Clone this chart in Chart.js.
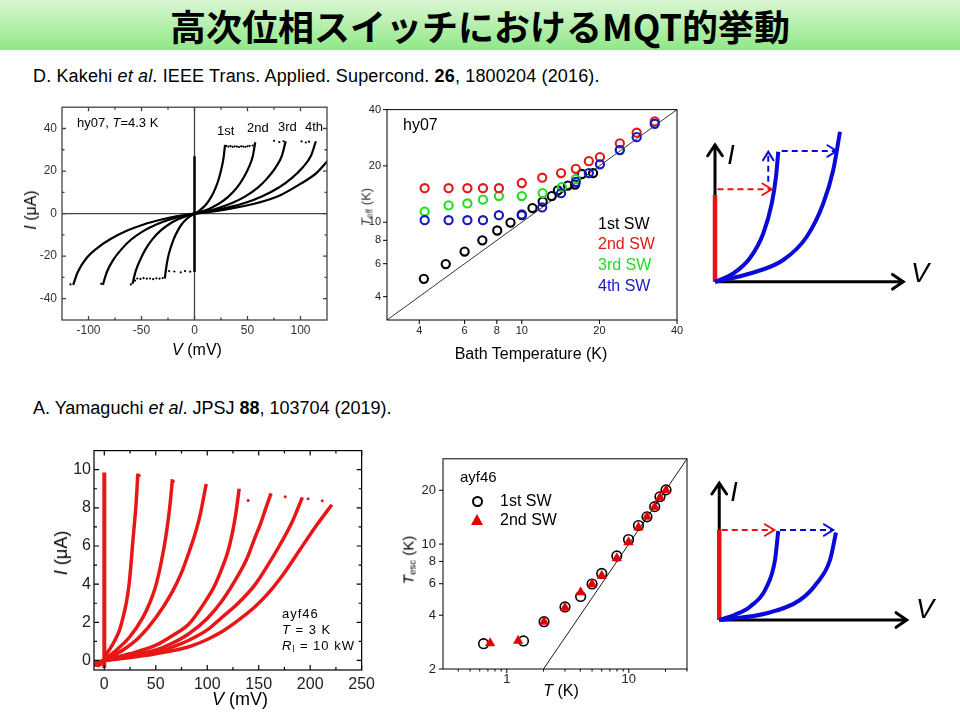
<!DOCTYPE html>
<html lang="ja"><head><meta charset="utf-8">
<script src="https://cdn.jsdelivr.net/npm/chart.js@4.4.1/dist/chart.umd.min.js"></script>
<style>
html,body{margin:0;padding:0;background:#fff}
body{position:relative;width:960px;height:720px;overflow:hidden;font-family:"Liberation Sans",Arial,sans-serif;color:#000}
.box{position:absolute}
.box canvas{display:block}
.t{position:absolute;white-space:nowrap;line-height:1}
.c{transform:translate(-50%,-50%)}
.l{transform:translateY(-50%)}
.r{transform:translate(-50%,-50%) rotate(-90deg)}
sub{font-size:65%;vertical-align:-0.25em;line-height:0}
#banner{position:absolute;left:0;top:0;width:960px;height:50px;background:linear-gradient(to bottom,#d9f6d2 0%,#b6efae 50%,#8fe887 100%)}
#title{position:absolute;left:480px;top:25px;transform:translate(-50%,-50%);font-family:"Noto Sans CJK JP",sans-serif;font-weight:700;font-size:36px;white-space:nowrap;line-height:1}
.sch{font-style:italic;font-size:27px;font-family:"Liberation Sans",Arial,sans-serif}
</style></head><body>
<div id="banner"></div>
<div id="title">高次位相スイッチにおけるMQT的挙動</div>
<div class="t l" style="left:33px;top:76px;font-size:18px;letter-spacing:0.15px">D. Kakehi <i>et al</i>. IEEE Trans. Applied. Supercond. <b>26</b>, 1800204 (2016).</div>
<div class="t l" style="left:33px;top:408px;font-size:18px">A. Yamaguchi <i>et al</i>. JPSJ <b>88</b>, 103704 (2019).</div>

<div class="box" style="left:10px;top:95px;width:330px;height:260px"><canvas id="cA" width="330" height="260"></canvas></div>
<div class="box" style="left:345px;top:97px;width:345px;height:250px"><canvas id="cB" width="345" height="250"></canvas></div>
<div class="box" style="left:700px;top:120px;width:250px;height:180px"><canvas id="cC" width="250" height="180"></canvas></div>
<div class="box" style="left:40px;top:438px;width:340px;height:262px"><canvas id="cD" width="340" height="262"></canvas></div>
<div class="box" style="left:400px;top:444px;width:300px;height:250px"><canvas id="cE" width="300" height="250"></canvas></div>
<div class="box" style="left:700px;top:470px;width:250px;height:170px"><canvas id="cF" width="250" height="170"></canvas></div>

<!-- chart A texts -->
<div class="t l" style="left:77px;top:122px;font-size:13px">hy07, <i>T</i>=4.3 K</div>
<div class="t l" style="left:217px;top:130px;font-size:13px">1st</div>
<div class="t l" style="left:247px;top:127px;font-size:13px">2nd</div>
<div class="t l" style="left:278px;top:126px;font-size:13px">3rd</div>
<div class="t l" style="left:305px;top:126px;font-size:13px">4th</div>
<div class="t r" style="left:31px;top:210px;font-size:16px"><i>I</i> (μA)</div>
<div class="t c" style="left:197px;top:350px;font-size:16px"><i>V</i> (mV)</div>

<!-- chart B texts -->
<div class="t l" style="left:403px;top:125px;font-size:16px">hy07</div>
<div class="t l" style="left:598px;top:224px;font-size:16px;color:#000">1st SW</div>
<div class="t l" style="left:598px;top:244px;font-size:16px;color:#e01818">2nd SW</div>
<div class="t l" style="left:598px;top:265px;font-size:16px;color:#22dd22">3rd SW</div>
<div class="t l" style="left:598px;top:286px;font-size:16px;color:#1818c0">4th SW</div>
<div class="t c" style="left:531px;top:354px;font-size:16px">Bath Temperature (K)</div>
<div class="t r" style="left:366px;top:207px;font-size:13px;color:#333"><i>T</i><sub>eff</sub> (K)</div>

<!-- chart C texts -->
<div class="t c sch" style="left:731px;top:155px">I</div>
<div class="t c sch" style="left:920px;top:273px">V</div>

<!-- chart D texts -->
<div class="t l" style="left:282px;top:613px;font-size:13px;letter-spacing:1px">ayf46</div>
<div class="t l" style="left:282px;top:629px;font-size:13px;letter-spacing:1px"><i>T</i> = 3 K</div>
<div class="t l" style="left:282px;top:645px;font-size:13px;letter-spacing:1px"><i>R</i><sub>l</sub> = 10 kW</div>
<div class="t r" style="left:61px;top:553px;font-size:18px"><i>I</i> (μA)</div>
<div class="t c" style="left:240px;top:699px;font-size:18px"><i>V</i> (mV)</div>

<!-- chart E texts -->
<div class="t l" style="left:460px;top:476px;font-size:15px">ayf46</div>
<div class="box" style="left:472px;top:496px;width:7px;height:7px;border:2px solid #000;border-radius:50%"></div>
<div class="t l" style="left:500px;top:501px;font-size:16px">1st SW</div>
<div class="box" style="left:471px;top:514px;width:0;height:0;border-left:6px solid transparent;border-right:6px solid transparent;border-bottom:11px solid #e00000"></div>
<div class="t l" style="left:500px;top:520px;font-size:16px">2nd SW</div>
<div class="t r" style="left:408px;top:560px;font-size:15px"><i>T</i><sub>esc</sub> (K)</div>
<div class="t c" style="left:561px;top:691px;font-size:16px"><i>T</i> (K)</div>

<!-- chart F texts -->
<div class="t c sch" style="left:734px;top:492px">I</div>
<div class="t c sch" style="left:925px;top:609px">V</div>

<script>
// ---------------- DATA ----------------
// Chart A: I-V (hy07, T=4.3 K), points [V (mV), I (uA)]
const ivA_pos1 = [[0,0],[4,1.2],[8,2.8],[12,5.0],[16,8.0],[20,12.2],[23,16.5],[25.5,21.3],[27.5,26.5],[28.8,32.3]];
const ivA_pos2 = [[0,0],[8,1.2],[16,2.8],[24,5.0],[32,8.0],[40,12.2],[46,16.6],[51,21.5],[55,27],[57.3,33.5]];
const ivA_pos3 = [[0,0],[12,1.2],[24,2.9],[36,5.1],[48,8.1],[60,12.3],[69,16.8],[76.5,21.6],[82.5,27.2],[86,34]];
const ivA_pos4 = [[0,0],[16,1.2],[32,2.9],[48,5.1],[64,8.2],[80,12.4],[92,16.8],[102,21.7],[110,27.3],[114.5,34]];
const ivA_pos5 = [[0,0],[20,1.2],[40,2.9],[60,5.1],[80,8.4],[100,14],[115,19],[126,25]];
const ivA_neg1 = [[-28,-30.5],[-27,-26.5],[-25.3,-21.3],[-22.8,-16.5],[-19.8,-12.2],[-15.8,-8],[-12,-5],[-8,-2.8],[-4,-1.2],[0,0]];
const ivA_neg2 = [[-58.5,-33],[-55.5,-27],[-51,-21.5],[-46,-16.6],[-40,-12.2],[-32,-8],[-24,-5],[-16,-2.8],[-8,-1.2],[0,0]];
const ivA_neg3 = [[-86.5,-33.5],[-82.5,-27.2],[-76.5,-21.6],[-69,-16.8],[-60,-12.3],[-48,-8.1],[-36,-5.1],[-24,-2.9],[-12,-1.2],[0,0]];
const ivA_neg4 = [[-114.5,-33.5],[-110,-27.3],[-102,-21],[-92,-16.3],[-80,-12.2],[-64,-8.1],[-48,-5.1],[-32,-2.9],[-16,-1.2],[0,0]];
const ivA_super = [[0,-27.5],[0,27]];
const ivA_dots = [[30,31.8],[32,31.5],[34,31.7],[36,31.4],[38,31.6],[40,31.5],[42,31.3],[44,31.6],[46,31.5],[48,31.4],[50,31.6],[52,31.8],[55,32],
  [75,34.2],[80,33.6],[84,34],[101,33.9],[105,33.4],[108,33.8],
  [-4,-27.3],[-9,-27],[-13,-27.6],[-19,-27.2],[-24,-27],[-30,-30.3],[-33,-30.6],[-36,-30.4],[-39,-30.8],[-42,-30.5],[-45,-30.6],
  [-48,-30.3],[-51,-30.7],[-54,-30.5],[-56,-31.5],[-60,-33.3],[-88,-33],[-117,-33.3]];
const ticksA_x = [-100,-50,0,50,100];
const ticksA_y = [-40,-20,0,20,40];
const minorA_x = [-75,-25,25,75];
const minorA_y = [-30,-10,10,30];

// Chart B: T_eff vs bath temperature (K), points [T_bath, T_eff]
const teff_1st = [[4.17,4.98],[5.07,5.97],[6.0,6.97],[7.03,8.0],[8.03,9.03],[9.04,9.95],[10,10.9],[11,11.9],[12.05,12.9],[13.06,13.8],[13.8,14.8],[15.1,15.7],[16.1,15.9],[17.1,18.1],[18.9,18.3]];
const teff_2nd = [[4.2,15.2],[5.2,15.2],[6.15,15.2],[7.07,15.2],[8.15,15.2],[10,16.2],[12,17.3],[14.2,18.3],[16.2,19.3],[18.2,21.2],[20.1,22.3],[24,26.4],[27.9,30.1],[32.8,34.6]];
const teff_3rd = [[4.2,11.4],[5.2,12.3],[6.15,12.6],[7.07,13.2],[8.15,13.8],[10,13.8],[12.05,14.3],[14.3,15.4],[16.2,17],[24,24.3]];
const teff_4th = [[4.2,10.25],[5.2,10.25],[6.15,10.25],[7.07,10.25],[8.15,10.9],[10,11.0],[12,12.0],[14.2,14.3],[16.2,16.4],[18.2,18.3],[20.1,20.4],[24,24.3],[27.9,28.5],[32.8,33.6]];
const teff_line = [[3,3],[40,40]];
const ticksB = [4,6,8,10,20,40];

// Chart D: I-V (ayf46, T=3 K), points [V (mV), I (uA)]
const ivD_1 = [[0,0],[2.3,0.35],[6,0.65],[10.3,1.06],[14.5,1.55],[18.2,2.25],[21.3,3.0],[24,3.95],[26.2,5.2],[27.8,6.3],[29.5,7.3],[31,8.3],[32.6,9.8]];
const ivD_2 = [[0,0],[5,0.25],[11.9,0.55],[24.6,1.23],[37.4,2.25],[44,3.0],[50.2,3.95],[55.5,5.2],[59.8,6.5],[63.5,8.0],[66.2,9.5]];
const ivD_3 = [[0,0],[8,0.25],[18.2,0.55],[34.2,1.23],[50.2,2.25],[66.2,3.61],[75,4.6],[82.2,5.66],[88,6.6],[93,7.6],[99,9.25]];
const ivD_4 = [[0,0],[12,0.18],[25,0.35],[50.2,0.8],[66,1.3],[82.2,1.91],[98.2,3.1],[107,3.9],[114.1,4.8],[119.5,5.6],[123.7,6.5],[127.5,7.6],[131,9.0]];
const ivD_5 = [[0,0],[25,0.25],[50.2,0.55],[66,0.9],[82.2,1.4],[100,2.2],[114.1,3.1],[130.1,4.47],[139,5.4],[146.1,6.4],[152,7.2],[157,8.0],[162,8.76]];
const ivD_6 = [[0,0],[25,0.2],[50.2,0.4],[66,0.7],[82.2,1.06],[100,1.6],[114.1,2.25],[130,3.0],[146.1,3.95],[158.9,5.0],[170,6.0],[182,7.2],[192.4,8.55]];
const ivD_7 = [[0,0],[25,0.15],[50,0.35],[82.2,0.72],[100,1.1],[114.1,1.5],[130,2.1],[146.1,2.8],[158.9,3.5],[175,4.6],[190,5.8],[205,7.0],[221,8.16]];
const ivD_super = [[0,-0.4],[0,9.85]];
const ivD_offset = [[-10,-0.15],[-6,-0.2],[-3,-0.1],[0,-0.05]];
const ivD_dots = [[139.7,8.38],[175.8,8.58],[198,8.47],[211.7,8.37],[34,9.7],[67,9.4]];
const ticksD_x = [0,50,100,150,200,250];
const ticksD_y = [0,2,4,6,8,10];
const minorD_x = [25,75,125,175,225];
const minorD_y = [1,3,5,7,9];

// Chart E: T_esc vs T (K), points [T, T_esc]
const tesc_1st = [[0.645,2.77],[1.37,2.87],[2.02,3.68],[3.0,4.45],[4.03,5.09],[5.0,5.98],[6.0,6.85],[7.98,8.58],[9.95,10.6],[12,12.7],[14.1,14.2],[16.3,16.2],[18,18.4],[20.2,20.1]];
const tesc_2nd = [[0.73,2.79],[1.24,2.88],[2.02,3.68],[3.0,4.4],[4.03,5.37],[5.0,5.95],[6.0,6.65],[7.98,8.33],[9.95,10.25],[12,12.4],[14.1,14.2],[16.3,16.1],[18,18.2],[20.2,20.0]];
const tesc_line = [[2,2],[30,30]];
const ticksE_x = [1,10];
const ticksE_y = [2,4,6,8,10,20];
const minorE_x = [0.4,0.5,0.6,0.7,0.8,0.9,2,3,4,5,6,7,8,9,20,30];

// Schematic C (upper): points [V, I] in arbitrary units
const schC_axisV = [[0,0],[7.53,0]];
const schC_axisI = [[0,0],[0,5.47]];
const schC_red = [[0,0],[0,3.47]];
const schC_blue1 = [[0,0],[0.73,0.33],[1.4,0.95],[1.93,1.93],[2.27,3.13],[2.44,4.2],[2.53,5.2]];
const schC_blue2 = [[0,0],[1.4,0.33],[2.73,0.87],[3.67,1.8],[4.33,3.13],[4.73,4.47],[5.0,6.0]];
const schC_redArrow = [[0.1,3.7],[2.27,3.7]];
const schC_blueArrowUp = [[2.13,4.0],[2.13,5.2]];
const schC_blueArrow = [[2.67,5.23],[4.87,5.23]];
// Schematic F (lower)
const schF_axisV = [[0,0],[7.5,0]];
const schF_axisI = [[0,0],[0,5.47]];
const schF_red = [[0,0],[0,3.6]];
const schF_blue1 = [[0,0],[0.6,0.2],[1.23,0.53],[1.9,1.33],[2.23,2.4],[2.36,3.56]];
const schF_blue2 = [[0,0],[1.9,0.27],[3.23,0.8],[3.9,1.47],[4.43,2.4],[4.67,3.5]];
const schF_redArrow = [[0.1,3.6],[2.2,3.6]];
const schF_blueArrow = [[2.43,3.6],[4.56,3.6]];

// ---------------- HELPERS ----------------
const P = a => a.map(([x,y]) => ({x,y}));
Chart.defaults.font.family = '"Liberation Sans", Arial, sans-serif';
Chart.defaults.animation = false;

const frameTicks = {
  id: 'frameTicks',
  beforeDatasetsDraw(chart, args, o) {
    if (!o.zero) return;
    const {ctx, chartArea: a, scales: {x, y}} = chart;
    ctx.save(); ctx.strokeStyle = o.zero.color; ctx.lineWidth = o.zero.width;
    const px = x.getPixelForValue(0), py = y.getPixelForValue(0);
    ctx.beginPath(); ctx.moveTo(a.left, py); ctx.lineTo(a.right, py);
    ctx.moveTo(px, a.top); ctx.lineTo(px, a.bottom); ctx.stroke(); ctx.restore();
  },
  afterDatasetsDraw(chart, args, o) {
    const {ctx, chartArea: a, scales: {x, y}} = chart;
    ctx.save();
    ctx.strokeStyle = o.color; ctx.lineWidth = o.width;
    ctx.strokeRect(a.left, a.top, a.right - a.left, a.bottom - a.top);
    const dir = o.inward ? 1 : -1;
    const sides = o.sides;
    const tick = (scale, vals, len, isX) => {
      (vals || []).forEach(v => {
        const p = scale.getPixelForValue(v);
        ctx.beginPath();
        if (isX) {
          if (sides.includes('bottom')) { ctx.moveTo(p, a.bottom); ctx.lineTo(p, a.bottom - dir * len); }
          if (sides.includes('top')) { ctx.moveTo(p, a.top); ctx.lineTo(p, a.top + dir * len); }
        } else {
          if (sides.includes('left')) { ctx.moveTo(a.left, p); ctx.lineTo(a.left + dir * len, p); }
          if (sides.includes('right')) { ctx.moveTo(a.right, p); ctx.lineTo(a.right - dir * len, p); }
        }
        ctx.stroke();
      });
    };
    tick(x, o.xMajor, o.len, true); tick(y, o.yMajor, o.len, false);
    tick(x, o.xMinor, o.minorLen, true); tick(y, o.yMinor, o.minorLen, false);
    ctx.restore();
  }
};

const arrowHeads = {
  id: 'arrowHeads',
  afterDatasetsDraw(chart) {
    const ctx = chart.ctx;
    chart.data.datasets.forEach((ds, i) => {
      if (!ds.arrow) return;
      const pts = chart.getDatasetMeta(i).data;
      const p2 = pts[pts.length - 1], p1 = pts[pts.length - 2];
      const ang = Math.atan2(p2.y - p1.y, p2.x - p1.x);
      const s = ds.arrow.size, h = ds.arrow.angle || 0.6;
      ctx.save(); ctx.strokeStyle = ds.borderColor; ctx.lineWidth = ds.arrow.width;
      ctx.lineCap = 'round'; ctx.lineJoin = 'miter'; ctx.setLineDash([]);
      ctx.beginPath();
      ctx.moveTo(p2.x - s * Math.cos(ang - h), p2.y - s * Math.sin(ang - h));
      ctx.lineTo(p2.x, p2.y);
      ctx.lineTo(p2.x - s * Math.cos(ang + h), p2.y - s * Math.sin(ang + h));
      ctx.stroke(); ctx.restore();
    });
  }
};

function fixedTicks(vals) { return s => { s.ticks = vals.map(v => ({value: v})); }; }
function line(data, color, width, extra) {
  return Object.assign({data: P(data), showLine: true, borderColor: color, backgroundColor: color,
    borderWidth: width, pointRadius: 0, pointHoverRadius: 0, fill: false}, extra || {});
}
function smooth(data, color, width) { return line(data, color, width, {cubicInterpolationMode: 'monotone'}); }
function dots(data, color, r, style, filled, bw, order) {
  return {data: P(data), showLine: false, pointStyle: style, pointRadius: r, pointHoverRadius: r,
    borderColor: color, backgroundColor: filled ? color : 'rgba(0,0,0,0)', pointBorderWidth: bw, borderWidth: bw, order: order || 0};
}
const basePlugins = {legend: {display: false}, tooltip: {enabled: false}};

// ---------------- CHART A ----------------
new Chart(document.getElementById('cA'), {
  type: 'scatter',
  data: {datasets: [
    smooth(ivA_pos1, '#000', 2.2), smooth(ivA_pos2, '#000', 2.2), smooth(ivA_pos3, '#000', 2.2),
    smooth(ivA_pos4, '#000', 2.2), smooth(ivA_pos5, '#000', 2.2),
    smooth(ivA_neg1, '#000', 2.2), smooth(ivA_neg2, '#000', 2.2), smooth(ivA_neg3, '#000', 2.2), smooth(ivA_neg4, '#000', 2.2),
    line(ivA_super, '#000', 2.5),
    dots(ivA_dots, '#000', 1.1, 'circle', true, 0)
  ]},
  options: {
    responsive: false, animation: false,
    layout: {padding: {top: 8, right: 13, left: 0, bottom: 0}},
    scales: {
      x: {type: 'linear', min: -125, max: 125, afterBuildTicks: fixedTicks(ticksA_x), afterFit: s => { s.height = 35; },
        grid: {display: false, drawTicks: false}, border: {display: false},
        ticks: {padding: 3, color: '#333', font: {size: 12}, autoSkip: false, maxRotation: 0}},
      y: {type: 'linear', min: -50, max: 50, afterBuildTicks: fixedTicks(ticksA_y), afterFit: s => { s.width = 52; },
        grid: {display: false, drawTicks: false}, border: {display: false},
        ticks: {padding: 5, color: '#333', font: {size: 12}, autoSkip: false}}
    },
    plugins: Object.assign({}, basePlugins, {frameTicks: {color: '#444', width: 1.3, inward: true,
      sides: ['left','right','top','bottom'], xMajor: ticksA_x, yMajor: ticksA_y, xMinor: minorA_x, yMinor: minorA_y,
      len: 4, minorLen: 2.5, zero: {color: '#444', width: 1.3}}})
  },
  plugins: [frameTicks]
});

// ---------------- CHART B ----------------
new Chart(document.getElementById('cB'), {
  type: 'scatter',
  data: {datasets: [
    line(teff_line, '#000', 0.8, {order: 9}),
    dots(teff_1st, '#000', 4.1, 'circle', false, 2.1, 4),
    dots(teff_3rd, '#22dd22', 4.1, 'circle', false, 2.1, 3),
    dots(teff_2nd, '#e01818', 4.1, 'circle', false, 2.1, 2),
    dots(teff_4th, '#1818c0', 4.1, 'circle', false, 2.1, 1)
  ]},
  options: {
    responsive: false, animation: false,
    layout: {padding: {top: 9, right: 13, left: 0, bottom: 0}},
    scales: {
      x: {type: 'logarithmic', min: 3, max: 40, afterBuildTicks: fixedTicks(ticksB), afterFit: s => { s.height = 27; },
        grid: {display: false, drawTicks: false}, border: {display: false},
        ticks: {padding: 4, color: '#222', font: {size: 11}, autoSkip: false, maxRotation: 0, callback: v => String(v)}},
      y: {type: 'logarithmic', min: 3, max: 40, afterBuildTicks: fixedTicks(ticksB), afterFit: s => { s.width = 42; },
        grid: {display: false, drawTicks: false}, border: {display: false},
        ticks: {padding: 6, color: '#222', font: {size: 11}, autoSkip: false, callback: v => String(v)}}
    },
    plugins: Object.assign({}, basePlugins, {frameTicks: {color: '#000', width: 1, inward: false,
      sides: ['left','bottom'], xMajor: ticksB, yMajor: ticksB, len: 4, minorLen: 2}})
  },
  plugins: [frameTicks]
});

// ---------------- CHART D ----------------
const RED = 'rgb(232,22,22)';
new Chart(document.getElementById('cD'), {
  type: 'scatter',
  data: {datasets: [
    smooth(ivD_1, RED, 3.5), smooth(ivD_2, RED, 3.5), smooth(ivD_3, RED, 3.5), smooth(ivD_4, RED, 3.5),
    smooth(ivD_5, RED, 3.5), smooth(ivD_6, RED, 3.5), smooth(ivD_7, RED, 3.5),
    line(ivD_super, RED, 4), line(ivD_offset, RED, 6),
    dots(ivD_dots, RED, 1.5, 'circle', true, 0)
  ]},
  options: {
    responsive: false, animation: false,
    layout: {padding: {top: 8, right: 15, left: 0, bottom: 0}},
    scales: {
      x: {type: 'linear', min: -10, max: 250, afterBuildTicks: fixedTicks(ticksD_x), afterFit: s => { s.height = 30; },
        grid: {display: false, drawTicks: false}, border: {display: false},
        ticks: {padding: 5, color: '#222', font: {size: 16}, autoSkip: false, maxRotation: 0}},
      y: {type: 'linear', min: -0.5, max: 11, afterBuildTicks: fixedTicks(ticksD_y), afterFit: s => { s.width = 54; },
        grid: {display: false, drawTicks: false}, border: {display: false},
        ticks: {padding: 3, color: '#222', font: {size: 16}, autoSkip: false}}
    },
    plugins: Object.assign({}, basePlugins, {frameTicks: {color: '#000', width: 1.2, inward: true,
      sides: ['left','right','top','bottom'], xMajor: ticksD_x, yMajor: ticksD_y, xMinor: minorD_x, yMinor: minorD_y,
      len: 5, minorLen: 3}})
  },
  plugins: [frameTicks]
});

// ---------------- CHART E ----------------
new Chart(document.getElementById('cE'), {
  type: 'scatter',
  data: {datasets: [
    line(tesc_line, '#000', 0.9, {order: 9}),
    dots(tesc_1st, '#000', 4.8, 'circle', false, 1.6, 3),
    dots(tesc_2nd, '#e00000', 5.5, 'triangle', true, 0.5, 1)
  ]},
  options: {
    responsive: false, animation: false,
    layout: {padding: {top: 8, right: 13, left: 0, bottom: 0}},
    scales: {
      x: {type: 'logarithmic', min: 0.3, max: 30, afterBuildTicks: fixedTicks(ticksE_x), afterFit: s => { s.height = 25; },
        grid: {display: false, drawTicks: false}, border: {display: false},
        ticks: {padding: 3, color: '#222', font: {size: 13}, autoSkip: false, maxRotation: 0, callback: v => String(v)}},
      y: {type: 'logarithmic', min: 2, max: 30, afterBuildTicks: fixedTicks(ticksE_y), afterFit: s => { s.width = 43; },
        grid: {display: false, drawTicks: false}, border: {display: false},
        ticks: {padding: 7, color: '#222', font: {size: 13}, autoSkip: false, callback: v => String(v)}}
    },
    plugins: Object.assign({}, basePlugins, {frameTicks: {color: '#000', width: 1, inward: false,
      sides: ['left','bottom'], xMajor: ticksE_x, yMajor: ticksE_y, xMinor: minorE_x, len: 4, minorLen: 2.5}})
  },
  plugins: [frameTicks]
});

// ---------------- SCHEMATICS ----------------
const BLUE = '#0a0ad8', SRED = '#ee1111';
function schematic(id, xr, yr, datasets) {
  new Chart(document.getElementById(id), {
    type: 'scatter',
    data: {datasets},
    options: {
      responsive: false, animation: false,
      layout: {padding: 0},
      scales: {x: {type: 'linear', display: false, min: xr[0], max: xr[1]},
               y: {type: 'linear', display: false, min: yr[0], max: yr[1]}},
      plugins: basePlugins
    },
    plugins: [arrowHeads]
  });
}
schematic('cC', [-0.6, 9.4], [-0.73, 6.47], [
  line(schC_redArrow, SRED, 2, {borderDash: [6, 4], arrow: {size: 11, width: 2, angle: 0.55}, order: 1}),
  line(schC_blueArrowUp, BLUE, 2, {borderDash: [6, 4], arrow: {size: 10, width: 2, angle: 0.55}, order: 1}),
  line(schC_blueArrow, BLUE, 2, {borderDash: [6, 4], arrow: {size: 11, width: 2, angle: 0.55}, order: 1}),
  smooth(schC_blue1, BLUE, 4), smooth(schC_blue2, BLUE, 4),
  line(schC_red, SRED, 4.5, {order: 2}),
  line(schC_axisV, '#000', 3, {arrow: {size: 13, width: 3, angle: 0.6}, order: 5}),
  line(schC_axisI, '#000', 3, {arrow: {size: 13, width: 3, angle: 0.6}, order: 5})
]);
schematic('cF', [-0.77, 9.23], [-0.8, 6.0], [
  line(schF_redArrow, SRED, 2, {borderDash: [6, 4], arrow: {size: 11, width: 2, angle: 0.55}, order: 1}),
  line(schF_blueArrow, BLUE, 2, {borderDash: [6, 4], arrow: {size: 11, width: 2, angle: 0.55}, order: 1}),
  smooth(schF_blue1, BLUE, 4), smooth(schF_blue2, BLUE, 4),
  line(schF_red, SRED, 4.5, {order: 2}),
  line(schF_axisV, '#000', 3, {arrow: {size: 13, width: 3, angle: 0.6}, order: 5}),
  line(schF_axisI, '#000', 3, {arrow: {size: 13, width: 3, angle: 0.6}, order: 5})
]);
</script>
</body></html>
